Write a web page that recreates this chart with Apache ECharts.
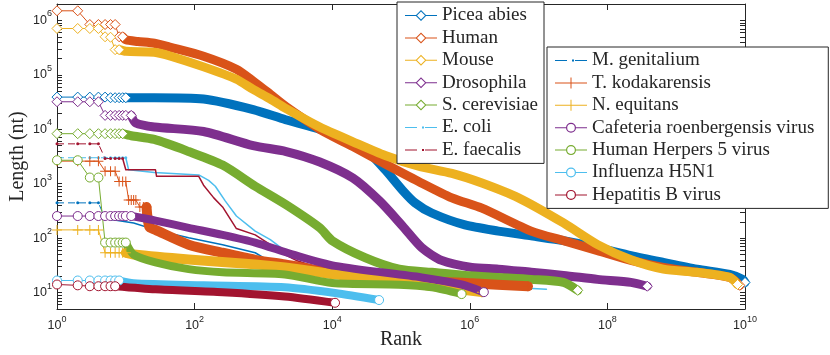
<!DOCTYPE html>
<html>
<head>
<meta charset="utf-8">
<script src="https://cdn.jsdelivr.net/npm/echarts@6/dist/echarts.min.js"></script>
<style>
  html, body { margin: 0; padding: 0; background: #fff; }
  #chart { width: 830px; height: 355px; }
</style>
</head>
<body>
<div id="chart"></div>
<script>
// axis ticks (log axes)
var xTicks = [1, 1e2, 1e4, 1e6, 1e8, 1e10];
var yTicks = [1e1, 1e2, 1e3, 1e4, 1e5, 1e6];

// [rank, length (nt)]
// *Head = first ranks (single markers), *Band = dense tail
var piceaHead = [[1, 3.9e4], [2, 3.9e4], [3, 3.9e4], [4, 3.9e4], [5, 3.9e4], [6, 3.8e4], [7, 3.8e4], [8, 3.8e4], [9, 3.8e4], [10, 3.8e4]];
var piceaBand = [[10, 3.8e4], [26, 3.8e4], [135, 3.6e4], [710, 2.3e4], [2100, 1.5e4], [6600, 1.0e4], [2.0e4, 5.5e3], [3.5e4, 3.6e3], [5.9e4, 1.8e3], [1.05e5, 760], [1.6e5, 445], [2.8e5, 290], [8.5e5, 175], [2.6e6, 135], [7.8e6, 110], [2.3e7, 90], [7.2e7, 67], [2.2e8, 48], [6.5e8, 36], [2.0e9, 27], [6.0e9, 21.6], [9.3e9, 17.5], [1e10, 15.4]];

var humanHead = [[1, 1.5e6], [2, 1.5e6], [3, 8.4e5], [4, 8.4e5], [5, 8.4e5], [6, 8.4e5], [7, 8.4e5], [8, 5.0e5], [9, 5.0e5]];
var humanBand = [[9, 5.0e5], [10, 4.4e5], [15, 4.1e5], [26, 3.8e5], [45, 3.2e5], [135, 2.2e5], [405, 1.27e5], [710, 7.7e4], [1260, 4.4e4], [2140, 2.6e4], [6600, 1.0e4], [2.0e4, 4.8e3], [5.9e4, 2.3e3], [1.8e5, 1.1e3], [5.5e5, 550], [1.5e6, 355], [7.8e6, 135], [2.3e7, 90], [7.2e7, 59], [2.2e8, 39], [6.5e8, 29], [2.0e9, 23.6], [6.0e9, 19], [8.4e9, 13.6]];

var mouseHead = [[1, 7.1e5], [2, 7.1e5], [3, 7.1e5], [4, 7.1e5], [5, 5.0e5], [6, 4.9e5], [7, 2.9e5], [8, 2.9e5]];
var mouseBand = [[8, 2.9e5], [10, 2.7e5], [26, 2.6e5], [45, 2.2e5], [135, 1.4e5], [405, 8.3e4], [710, 5.4e4], [1260, 3.6e4], [2140, 2.4e4], [6600, 1.1e4], [2.0e4, 5.9e3], [5.9e4, 3.3e3], [1.8e5, 2.1e3], [5.5e5, 1.55e3], [1.5e6, 1.03e3], [5.1e6, 550], [2.3e7, 190], [7.2e7, 76], [2.2e8, 40], [6.5e8, 27], [2.0e9, 23.6], [6.0e9, 19], [7.8e9, 14.1]];

var drosoHead = [[1, 3.2e4], [2, 3.2e4], [3, 3.2e4], [4, 3.2e4], [5, 1.8e4], [6, 1.8e4], [7, 1.8e4], [8, 1.8e4], [9, 1.8e4], [10, 1.8e4], [12, 1.8e4]];
var drosoBand = [[12, 1.8e4], [14, 1.3e4], [26, 1.1e4], [135, 9.1e3], [710, 5.0e3], [2140, 3.9e3], [6600, 2.5e3], [2.0e4, 1.27e3], [4.9e4, 480], [1.05e5, 168], [2.0e5, 67], [3.9e5, 39], [1.07e6, 29], [2.6e6, 27], [7.8e6, 23.6], [2.3e7, 20.7], [7.2e7, 17.5], [2.2e8, 15.4], [3.8e8, 13.1]];

var yeastHead = [[1, 8.3e3], [2, 8.3e3], [3, 8.3e3], [4, 8.3e3], [5, 8.3e3], [6, 8.3e3], [7, 8.3e3], [8, 8.3e3], [9, 8.3e3]];
var yeastBand = [[9, 8.3e3], [12, 7.6e3], [26, 6.5e3], [82, 3.9e3], [255, 2.2e3], [760, 900], [2140, 410], [6600, 155], [1.0e4, 90], [3.0e4, 44], [9.4e4, 27], [2.8e5, 23.6], [8.5e5, 20.7], [2.6e6, 19], [7.8e6, 17.5], [2.3e7, 15.4], [3.7e7, 11]];

var ecoliHead = [[1, 3.0e3], [2, 3.0e3], [3, 3.0e3], [4, 3.0e3], [5, 3.0e3], [6, 3.0e3], [7, 3.0e3], [8, 3.0e3], [9, 3.0e3], [10, 3.0e3]];
var ecoliTail = [[10, 3.0e3], [11, 1.8e3], [26, 1.6e3], [115, 1.45e3], [160, 1.15e3], [200, 900], [280, 480], [405, 255], [760, 135], [1260, 94], [2050, 59], [3700, 48], [1.0e4, 29], [1.05e5, 17.5], [1.07e6, 13.6], [1.3e7, 11.5]];

var efaecHead = [[1, 5.4e3], [2, 5.4e3], [3, 5.4e3], [4, 5.4e3], [5, 2.9e3], [6, 2.9e3], [7, 2.9e3], [8, 2.9e3], [9, 2.9e3]];
var efaecTail = [[9, 2.9e3], [10, 1.8e3], [27, 1.8e3], [28, 1.37e3], [115, 1.37e3], [135, 940], [190, 550], [255, 375], [405, 150], [760, 115], [1260, 76], [2050, 50], [3000, 39], [1.0e4, 23.6], [1.05e5, 16.7], [1.07e6, 13.6], [7.8e6, 11.5]];

var mgenHead = [[1, 445], [2, 445], [3, 445], [4, 445], [5, 230]];
var mgenTail = [[5, 230], [13, 190], [27, 142], [82, 102], [255, 76], [760, 54], [1170, 39], [2050, 27], [2200, 21.6]];

var tkodHead = [[1, 2.6e3], [2, 2.6e3], [3, 2.6e3], [4, 2.6e3], [5, 1.7e3], [6, 1.7e3], [7, 1.7e3], [8, 1.1e3], [9, 1.1e3], [10, 1.1e3], [11, 500], [12, 500], [13, 500], [14, 500], [16, 375], [18, 375], [20, 375]];
var tkodBand = [[20, 375], [22, 160], [27, 142], [82, 76], [255, 54], [760, 40], [2050, 33], [1.0e4, 23.6], [1.05e5, 17.5], [1.07e6, 14.8], [7.0e6, 13.1]];

var nequHead = [[1, 142], [2, 142], [3, 142], [4, 142], [5, 54], [6, 54], [7, 54], [8, 54], [9, 54], [10, 54]];
var nequBand = [[10, 54], [13, 50], [82, 40.5], [760, 33], [2050, 29], [1.1e4, 21.6], [1.05e5, 15.4], [1.5e6, 10.2]];

var cafHead = [[1, 255], [2, 255], [3, 255], [4, 255], [5, 255], [6, 255], [7, 255], [8, 255], [9, 255], [10, 255], [12, 255]];
var cafBand = [[12, 255], [27, 210], [82, 155], [255, 115], [760, 83], [2700, 50], [1.1e4, 31], [2.0e5, 19], [7.6e5, 14.1], [1.6e6, 10.2]];

var hhv5Head = [[1, 2.7e3], [2, 2.7e3], [3, 1.3e3], [4, 1.3e3], [5, 83], [6, 83], [7, 83], [8, 83], [9, 83], [10, 83]];
var hhv5Band = [[10, 83], [13, 50], [27, 36], [82, 27], [255, 23.6], [2050, 21.6], [1.0e4, 15], [9.4e4, 14], [2.8e5, 12.5], [7.6e5, 9.4]];

var fluHead = [[1, 16.7], [2, 16.7], [3, 16.7], [4, 16.7], [5, 16.7], [6, 16.7], [7, 16.7], [8, 16.7]];
var fluBand = [[8, 16.7], [13, 14.8], [135, 13.6], [2050, 12.5], [1.1e4, 9.8], [4.8e4, 7.3]];

var hbvHead = [[1, 14.1], [2, 13.6], [3, 13.1], [4, 13.1], [5, 13.1], [6, 13.1], [7, 13.1]];
var hbvBand = [[7, 13.1], [27, 11.5], [255, 10.2], [2050, 8.5], [1.1e4, 6.5]];

// matlab default colours
var C = {
  blue: '#0072BD', orange: '#D95319', yellow: '#EDB120', purple: '#7E2F8E',
  green: '#77AC30', cyan: '#4DBEEE', red: '#A2142F'
};
var INK = '#262626';

var specs = [
  {name: 'Picea abies', color: C.blue, mark: 'diamond', head: piceaHead, band: piceaBand},
  {name: 'Human', color: C.orange, mark: 'diamond', head: humanHead, band: humanBand},
  {name: 'Mouse', color: C.yellow, mark: 'diamond', head: mouseHead, band: mouseBand},
  {name: 'Drosophila', color: C.purple, mark: 'diamond', head: drosoHead, band: drosoBand},
  {name: 'S. cerevisiae', color: C.green, mark: 'diamond', head: yeastHead, band: yeastBand},
  {name: 'E. coli', color: C.cyan, mark: 'dot', head: ecoliHead, band: ecoliTail},
  {name: 'E. faecalis', color: C.red, mark: 'dot', head: efaecHead, band: efaecTail},
  {name: 'M. genitalium', color: C.blue, mark: 'dot', head: mgenHead, band: mgenTail},
  {name: 'T. kodakarensis', color: C.orange, mark: 'plus', head: tkodHead, band: tkodBand},
  {name: 'N. equitans', color: C.yellow, mark: 'plus', head: nequHead, band: nequBand},
  {name: 'Cafeteria roenbergensis virus', color: C.purple, mark: 'circle', head: cafHead, band: cafBand},
  {name: 'Human Herpers 5 virus', color: C.green, mark: 'circle', head: hhv5Head, band: hhv5Band},
  {name: 'Influenza H5N1', color: C.cyan, mark: 'circle', head: fluHead, band: fluBand},
  {name: 'Hepatitis B virus', color: C.red, mark: 'circle', head: hbvHead, band: hbvBand}
];

var PLUS = 'path://M4.5,0H5.5V10H4.5Z M0,4.5H10V5.5H0Z';
// legend icons, 32 x 12 box
var ICONS = {
  diamond: 'path://M0,5.5H11V6.5H0Z M21,5.5H32V6.5H21Z M16,0.5L21.5,6L16,11.5L10.5,6Z M16,2L12,6L16,10L20,6Z',
  circle: 'path://M0,5.5H11.2V6.5H0Z M20.8,5.5H32V6.5H20.8Z M11,6A5,5 0 1,1 21,6A5,5 0 1,1 11,6Z M12.2,6A3.8,3.8 0 1,0 19.8,6A3.8,3.8 0 1,0 12.2,6Z',
  plus: 'path://M0,5.5H32V6.5H0Z M15.5,0.5H16.5V11.5H15.5Z',
  dot: 'path://M0,5.5H12V6.5H0Z M17,5H19V7H17Z M20,5.5H32V6.5H20Z'
};

function markOf(mark, color) {
  if (mark === 'diamond') return {symbol: 'diamond', size: 10, item: {color: '#fff', borderColor: color, borderWidth: 1}};
  if (mark === 'circle') return {symbol: 'circle', size: 9, item: {color: '#fff', borderColor: color, borderWidth: 1}};
  if (mark === 'plus') return {symbol: PLUS, size: 10, item: {color: color, borderWidth: 0}};
  return {symbol: 'circle', size: 3, item: {color: color, borderWidth: 0}};
}

var bandWidth = {diamond: 9, plus: 10, circle: 8, dot: 1.5};

var series = [];
specs.forEach(function (s) {
  var m = markOf(s.mark, s.color);
  var dotted = s.mark === 'dot';
  series.push({
    name: s.name, type: 'line', data: s.head, clip: false, silent: true,
    symbol: m.symbol, symbolSize: m.size, itemStyle: m.item,
    lineStyle: {color: s.color, width: 1, type: dotted ? [7, 4] : 'solid'},
    emphasis: {disabled: true}
  });
  var last = s.band.length - 1;
  series.push({
    name: s.name, type: 'line', data: s.band, clip: false, silent: true,
    smooth: dotted ? false : 0.25,
    symbol: dotted ? 'none' : m.symbol,
    symbolSize: function (v, p) { return p.dataIndex === last ? m.size : 0; },
    itemStyle: m.item,
    lineStyle: {color: s.color, width: bandWidth[s.mark], cap: 'round', join: 'round'},
    emphasis: {disabled: true}
  });
});

function legendBox(list, left, top, padRight) {
  return {
    orient: 'vertical', left: left, top: top,
    data: list.map(function (s) {
      return {name: s.name, icon: ICONS[s.mark], itemStyle: {color: s.color, borderWidth: 0}};
    }),
    itemWidth: 32, itemHeight: 12, itemGap: 3.4,
    padding: [4, padRight, 4, 8],
    backgroundColor: '#fff', borderColor: INK, borderWidth: 1, borderRadius: 0,
    itemStyle: {borderWidth: 0},
    textStyle: {fontFamily: 'Liberation Serif', fontSize: 19, color: INK},
    selectedMode: false
  };
}

function powLabel(v) {
  return '{b|10}{s|' + Math.round(Math.log10(v)) + '}';
}
var powRich = {
  b: {fontFamily: 'Liberation Sans', fontSize: 12.5, color: INK, lineHeight: 22},
  s: {fontFamily: 'Liberation Sans', fontSize: 9, color: INK, lineHeight: 10, verticalAlign: 'top'}
};

// every 1..9 x 10^k between the axis limits
var yAll = [];
[1].concat(yTicks).forEach(function (d) {
  for (var k = 1; k <= 9; k++) {
    var v = k * d;
    if (v >= 5 && v <= 2e6) yAll.push(v);
  }
});

var xBase = {
  type: 'log', min: 1, max: 1e10, splitLine: {show: false}, minorTick: {show: false},
  axisLine: {show: true, lineStyle: {color: INK, width: 1}}
};
var yBase = {
  type: 'log', min: 5, max: 2e6, splitLine: {show: false}, minorTick: {show: false},
  axisLine: {show: true, lineStyle: {color: INK, width: 1}}
};

var chart = echarts.init(document.getElementById('chart'));
chart.setOption({
  animation: false,
  backgroundColor: '#fff',
  grid: {left: 52, top: 4, width: 693, height: 307.6},
  legend: [legendBox(specs.slice(0, 7), 397, 2, 6), legendBox(specs.slice(7), 547, 47, 14)],
  xAxis: [
    Object.assign({}, xBase, {
      position: 'bottom',
      name: 'Rank', nameLocation: 'middle', nameGap: 23, nameMoveOverlap: false,
      nameTextStyle: {fontFamily: 'Liberation Serif', fontSize: 20, lineHeight: 16, color: INK},
      axisTick: {show: true, inside: true, length: 6, customValues: xTicks, lineStyle: {color: INK}},
      axisLabel: {show: true, customValues: xTicks, margin: 6, formatter: powLabel, rich: powRich}
    }),
    Object.assign({}, xBase, {
      position: 'top',
      axisTick: {show: true, inside: true, length: 6, customValues: xTicks, lineStyle: {color: INK}},
      axisLabel: {show: false}
    })
  ],
  yAxis: [
    Object.assign({}, yBase, {
      position: 'left',
      name: 'Length (nt)', nameLocation: 'middle', nameGap: 29, nameMoveOverlap: false,
      nameTextStyle: {fontFamily: 'Liberation Serif', fontSize: 20, color: INK},
      axisTick: {show: true, inside: true, length: 5, customValues: yAll, lineStyle: {color: INK}},
      axisLabel: {show: true, customValues: yTicks, margin: 5, formatter: powLabel, rich: powRich}
    }),
    Object.assign({}, yBase, {
      position: 'right',
      axisTick: {show: true, inside: true, length: 5, customValues: yAll, lineStyle: {color: INK}},
      axisLabel: {show: false}
    })
  ],
  series: series
});
</script>
</body>
</html>
